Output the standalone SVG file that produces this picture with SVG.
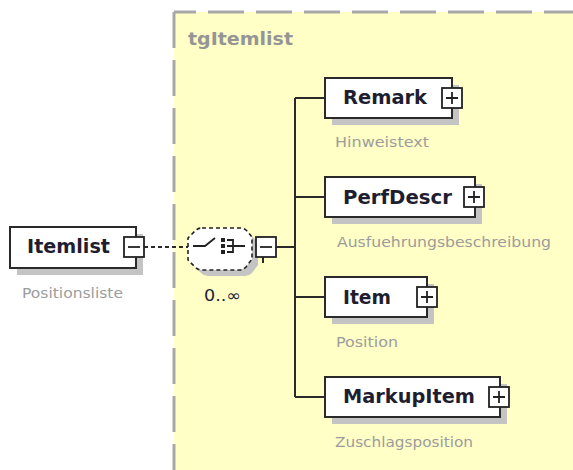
<svg xmlns="http://www.w3.org/2000/svg" width="573" height="470" viewBox="0 0 573 470">
<defs>
<style>
.bg{fill:#FFFFC6}
.border{fill:none;stroke:#A8A8A8;stroke-width:3;stroke-dasharray:36 12}
.box{fill:#FFFFFF;stroke:#2A2A2A;stroke-width:2}
.shadow{fill:#C4C4C4}
.pm{fill:#FFFFFF;stroke:#222222;stroke-width:1.8}
.sign{stroke:#222222;stroke-width:1.8;fill:none}
.name{font-family:"DejaVu Sans",Verdana,sans-serif;font-weight:bold;font-size:19px;fill:#1E1E30}
.desc{font-family:"DejaVu Sans",Verdana,sans-serif;font-size:14px;fill:#9C9C9C}
.title{font-family:"DejaVu Sans",Verdana,sans-serif;font-weight:bold;font-size:17px;fill:#959595}
.line{stroke:#2A2A2A;stroke-width:2;fill:none}
.dline{stroke:#2A2A2A;stroke-width:1.8;fill:none;stroke-dasharray:4 3}
</style>
</defs>
<rect width="573" height="470" fill="#FFFFFF"/>
<g id="group-tgItemlist">
<rect class="bg" x="174" y="12" width="399" height="458"/>
<path class="border" d="M174,12 H573" stroke-dashoffset="14"/>
<path class="border" d="M174,12 V470" stroke-dasharray="11 5 35 12"/>
<text class="title" x="188" y="45" textLength="105" lengthAdjust="spacingAndGlyphs">tgItemlist</text>
</g>
<g id="connectors">
<path class="dline" d="M144,247 H188"/>
<path class="line" d="M276,247 H295 M295,98 V397 M295,98 H325 M295,197 H325 M295,297 H325 M295,397 H325"/>
<path class="line" d="M263,257 V263"/>
</g>
<g id="node-Itemlist">
<rect class="shadow" x="17" y="234" width="126" height="41"/>
<rect class="box" x="10" y="227" width="126" height="41"/>
<text class="name" x="27" y="253" textLength="83" lengthAdjust="spacingAndGlyphs">Itemlist</text>
<rect class="pm" x="124" y="237" width="20" height="20"/>
<path class="sign" d="M128,247 H140"/>
<text class="desc" x="22" y="298" textLength="101" lengthAdjust="spacingAndGlyphs">Positionsliste</text>
</g>
<g id="node-sequence">
<path class="shadow" d="M208,234 H246 Q250,234 253,237 L258,243 V265 L252,273 Q249,276 245,276 H208 Q204,276 201,273 L194,266 V244 L201,237 Q204,234 208,234 Z"/>
<path d="M202,228 H240 Q244,228 247,231 L252,237 V259 L246,267 Q243,270 239,270 H202 Q198,270 195,267 L188,260 V238 L195,231 Q198,228 202,228 Z" fill="#FFFFFF" stroke="#222222" stroke-width="1.6" stroke-dasharray="4 3"/>
<path class="sign" d="M193,246 H205 L215,238"/>
<rect x="221" y="238" width="4" height="4" fill="#222222"/>
<rect x="221" y="244" width="4" height="4" fill="#222222"/>
<rect x="221" y="250" width="4" height="4" fill="#222222"/>
<path class="sign" d="M227,240 H233 V252 H227 M227,246 H245"/>
<rect class="pm" x="256" y="237" width="20" height="20"/>
<path class="sign" d="M260,247 H272"/>
<text x="204" y="301" font-family="DejaVu Sans, Verdana, sans-serif" font-size="16" fill="#23233A" textLength="37" lengthAdjust="spacingAndGlyphs">0..∞</text>
</g>
<g id="node-Remark">
<rect class="shadow" x="332" y="85" width="127" height="40"/>
<rect class="box" x="325" y="78" width="127" height="40"/>
<text class="name" x="343" y="104" textLength="84" lengthAdjust="spacingAndGlyphs">Remark</text>
<rect class="pm" x="442" y="88" width="20" height="20"/>
<path class="sign" d="M446,98 H458 M452,92 V104"/>
<text class="desc" x="335" y="147" textLength="94" lengthAdjust="spacingAndGlyphs">Hinweistext</text>
</g>
<g id="node-PerfDescr">
<rect class="shadow" x="332" y="184" width="150" height="40"/>
<rect class="box" x="325" y="177" width="150" height="40"/>
<text class="name" x="343" y="204" textLength="109" lengthAdjust="spacingAndGlyphs">PerfDescr</text>
<rect class="pm" x="464" y="187" width="20" height="20"/>
<path class="sign" d="M468,197 H480 M474,191 V203"/>
<text class="desc" x="337" y="247" textLength="214" lengthAdjust="spacingAndGlyphs">Ausfuehrungsbeschreibung</text>
</g>
<g id="node-Item">
<rect class="shadow" x="332" y="284" width="102" height="40"/>
<rect class="box" x="325" y="277" width="102" height="40"/>
<text class="name" x="343" y="304" textLength="48" lengthAdjust="spacingAndGlyphs">Item</text>
<rect class="pm" x="417" y="287" width="20" height="20"/>
<path class="sign" d="M421,297 H433 M427,291 V303"/>
<text class="desc" x="336" y="347" textLength="62" lengthAdjust="spacingAndGlyphs">Position</text>
</g>
<g id="node-MarkupItem">
<rect class="shadow" x="332" y="384" width="175" height="40"/>
<rect class="box" x="325" y="377" width="175" height="40"/>
<text class="name" x="343" y="403" textLength="132" lengthAdjust="spacingAndGlyphs">MarkupItem</text>
<rect class="pm" x="489" y="387" width="20" height="20"/>
<path class="sign" d="M493,397 H505 M499,391 V403"/>
<text class="desc" x="335" y="447" textLength="138" lengthAdjust="spacingAndGlyphs">Zuschlagsposition</text>
</g>
</svg>
